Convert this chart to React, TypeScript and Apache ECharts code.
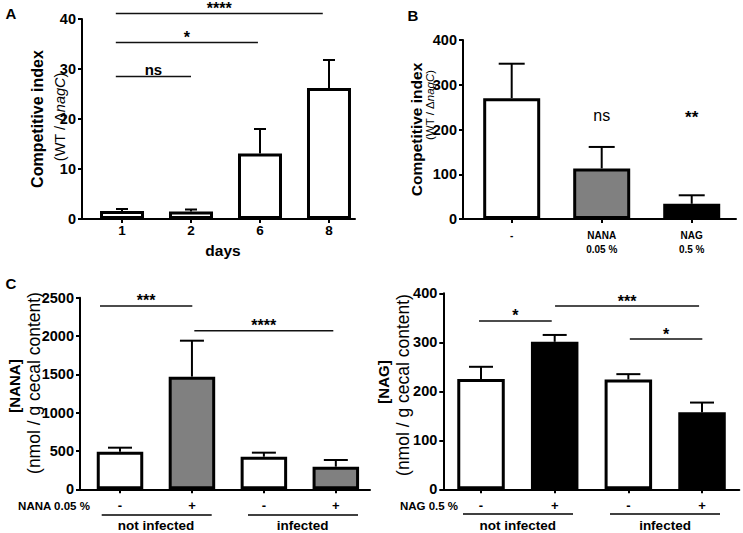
import React, { useEffect, useRef } from "react";
import * as echarts from "echarts";

const FONT = "'Liberation Sans', Arial, Helvetica, sans-serif";

// ---------- Panel A: competitive index over days ----------
const daysLabels = ["1", "2", "6", "8"];
const ciDaysMean = [1.6, 1.5, 13.1, 26.2];
const ciDaysTop = [2.0, 1.9, 18.0, 31.8]; // mean + error
const ciDaysFill = ["#ffffff", "#ffffff", "#ffffff", "#ffffff"];
const ciDaysSig: [number, number, number, string][] = [
  [0.91, 2.0, 28.5, "ns"],
  [0.91, 2.97, 35.3, "*"],
  [0.91, 3.91, 41.1, "****"],
];

// ---------- Panel B: competitive index with supplements ----------
const suppLabels = ["-", "NANA\n0.05 %", "NAG\n0.5 %"];
const ciSuppMean = [270, 113, 34];
const ciSuppTop = [347, 161, 53];
const ciSuppFill = ["#ffffff", "#808080", "#000000"];
const ciSuppSig: [number, number, number, string][] = [
  [2, 2, 214, "ns"],
  [3, 3, 214, "**"],
];

// ---------- Panel C left: [NANA] ----------
const nanaLabels = ["-", "+", "-", "+"];
const nanaMean = [490, 1470, 425, 295];
const nanaTop = [543, 1939, 478, 382];
const nanaFill = ["#ffffff", "#808080", "#ffffff", "#808080"];
const nanaSig: [number, number, number, string][] = [
  [0.722, 2.005, 2392, "***"],
  [2.033, 3.965, 2069, "****"],
];

// ---------- Panel C right: [NAG] ----------
const nagLabels = ["-", "+", "-", "+"];
const nagMean = [225, 301, 224, 157];
const nagTop = [250, 315, 235, 177];
const nagFill = ["#ffffff", "#000000", "#ffffff", "#000000"];
const nagSig: [number, number, number, string][] = [
  [0.973, 1.96, 343.5, "*"],
  [2.005, 3.96, 374, "***"],
  [3.02, 4.004, 306.7, "*"],
];

const groupLabels = ["not infected", "infected"];

type PanelCfg = {
  grid: { left: number; top: number; width: number; height: number };
  xMin: number;
  xMax: number;
  yMax: number;
  yInterval: number;
  labels: string[];
  labelFont: number;
  labelMargin: number;
  labelLineHeight?: number;
  means: number[];
  tops: number[];
  fills: string[];
  barWidth: number;
  capHalf: number;
  sig: [number, number, number, string][];
  sigFont: number;
  nsFont: number;
  nsWeight: string;
};

const panels: PanelCfg[] = [
  {
    grid: { left: 82, top: 19, width: 273, height: 200 },
    xMin: 0.42, xMax: 4.377, yMax: 40, yInterval: 10,
    labels: daysLabels, labelFont: 13.5, labelMargin: 4,
    means: ciDaysMean, tops: ciDaysTop, fills: ciDaysFill,
    barWidth: 44, capHalf: 6, sig: ciDaysSig, sigFont: 16, nsFont: 15, nsWeight: "bold",
  },
  {
    grid: { left: 463, top: 40, width: 273, height: 179 },
    xMin: 0.459, xMax: 3.492, yMax: 400, yInterval: 100,
    labels: suppLabels, labelFont: 10, labelMargin: 9, labelLineHeight: 14,
    means: ciSuppMean, tops: ciSuppTop, fills: ciSuppFill,
    barWidth: 57, capHalf: 13, sig: ciSuppSig, sigFont: 17, nsFont: 16, nsWeight: "normal",
  },
  {
    grid: { left: 80, top: 297.7, width: 290, height: 191.6 },
    xMin: 0.444, xMax: 4.475, yMax: 2500, yInterval: 500,
    labels: nanaLabels, labelFont: 13, labelMargin: 10,
    means: nanaMean, tops: nanaTop, fills: nanaFill,
    barWidth: 46.5, capHalf: 12, sig: nanaSig, sigFont: 16, nsFont: 15, nsWeight: "bold",
  },
  {
    grid: { left: 443.3, top: 293.3, width: 296, height: 196 },
    xMin: 0.488, xMax: 4.506, yMax: 400, yInterval: 100,
    labels: nagLabels, labelFont: 13, labelMargin: 10,
    means: nagMean, tops: nagTop, fills: nagFill,
    barWidth: 47.5, capHalf: 12, sig: nagSig, sigFont: 16, nsFont: 15, nsWeight: "bold",
  },
];

function vText(x: number, y: number, text: string, size: number, weight: string, rich?: any) {
  return {
    type: "text",
    x,
    y,
    rotation: Math.PI / 2,
    style: {
      text,
      fill: "#000",
      fontFamily: FONT,
      fontSize: size,
      fontWeight: weight,
      align: "center",
      verticalAlign: "middle",
      textAlign: "center",
      textVerticalAlign: "middle",
      rich,
    },
  };
}

function hText(x: number, y: number, text: string, size: number, weight: string) {
  return {
    type: "text",
    x,
    y,
    style: {
      text,
      fill: "#000",
      fontFamily: FONT,
      fontSize: size,
      fontWeight: weight,
      align: "center",
      verticalAlign: "middle",
      textAlign: "center",
      textVerticalAlign: "middle",
    },
  };
}

function hLine(x1: number, x2: number, y: number) {
  return {
    type: "line",
    shape: { x1, y1: y, x2, y2: y },
    style: { stroke: "#000", lineWidth: 1.6 },
  };
}

function subRich(size: number) {
  return {
    n: { fontFamily: FONT, fontSize: size, fill: "#000" },
    i: { fontFamily: FONT, fontSize: size, fontStyle: "italic", fill: "#000" },
  };
}

export default function App() {
  const ref = useRef<HTMLDivElement>(null);

  useEffect(() => {
    if (!ref.current) return;
    const chart = echarts.init(ref.current, undefined, { renderer: "svg" });

    const grid = panels.map((p) => ({ ...p.grid, containLabel: false }));

    const xAxis = panels.map((p, i) => {
      const vals = p.labels.map((_, k) => k + 1);
      return {
        type: "value",
        gridIndex: i,
        min: p.xMin,
        max: p.xMax,
        splitLine: { show: false },
        axisLine: { show: true, onZero: false, lineStyle: { color: "#000", width: 2 } },
        axisTick: { show: true, customValues: vals, length: 4, lineStyle: { color: "#000", width: 2 } },
        axisLabel: {
          show: true,
          customValues: vals,
          formatter: (v: number) => p.labels[Math.round(v) - 1] ?? "",
          color: "#000",
          fontFamily: FONT,
          fontWeight: "bold",
          fontSize: p.labelFont,
          lineHeight: p.labelLineHeight,
          margin: p.labelMargin,
        },
      };
    });

    const yAxis = panels.map((p, i) => ({
      type: "value",
      gridIndex: i,
      min: 0,
      max: p.yMax,
      interval: p.yInterval,
      splitLine: { show: false },
      axisLine: { show: true, lineStyle: { color: "#000", width: 2 } },
      axisTick: { show: true, length: 4, lineStyle: { color: "#000", width: 2 } },
      axisLabel: {
        color: "#000",
        fontFamily: FONT,
        fontWeight: "bold",
        fontSize: 14.5,
        margin: 6,
        formatter: (v: number) => String(v),
      },
    }));

    const series: any[] = [];
    panels.forEach((p, i) => {
      // error bars (drawn beneath the bars)
      series.push({
        type: "custom",
        xAxisIndex: i,
        yAxisIndex: i,
        z: 1,
        silent: true,
        encode: { x: 0, y: [1, 2] },
        data: p.means.map((m, k) => [k + 1, m, p.tops[k]]),
        renderItem: (params: any, api: any) => {
          const x = api.value(0);
          const a = api.coord([x, api.value(1)]);
          const b = api.coord([x, api.value(2)]);
          return {
            type: "group",
            children: [
              { type: "line", shape: { x1: a[0], y1: a[1], x2: b[0], y2: b[1] }, style: { stroke: "#000", lineWidth: 2 } },
              { type: "line", shape: { x1: b[0] - p.capHalf, y1: b[1], x2: b[0] + p.capHalf, y2: b[1] }, style: { stroke: "#000", lineWidth: 2 } },
            ],
          };
        },
      });
      // bars
      series.push({
        type: "bar",
        xAxisIndex: i,
        yAxisIndex: i,
        z: 2,
        barWidth: p.barWidth,
        silent: true,
        data: p.means.map((m, k) => ({
          value: [k + 1, m],
          itemStyle: { color: p.fills[k], borderColor: "#000", borderWidth: 3 },
        })),
      });
      // significance brackets
      series.push({
        type: "custom",
        xAxisIndex: i,
        yAxisIndex: i,
        z: 3,
        silent: true,
        clip: false,
        encode: { x: [0, 1], y: 2 },
        data: p.sig.map((s) => [s[0], s[1], s[2]]),
        renderItem: (params: any, api: any) => {
          const s = p.sig[params.dataIndex];
          const a = api.coord([api.value(0), api.value(2)]);
          const b = api.coord([api.value(1), api.value(2)]);
          const isNs = s[3] === "ns";
          const children: any[] = [];
          if (b[0] - a[0] > 1) {
            children.push({ type: "line", shape: { x1: a[0], y1: a[1], x2: b[0], y2: b[1] }, style: { stroke: "#111", lineWidth: 1.5 } });
          }
          children.push({
            type: "text",
            x: (a[0] + b[0]) / 2,
            y: a[1] + (isNs ? 0 : 3),
            style: {
              text: s[3],
              fill: "#000",
              fontFamily: FONT,
              fontSize: isNs ? p.nsFont : p.sigFont,
              fontWeight: isNs ? p.nsWeight : "bold",
              align: "center",
              verticalAlign: "bottom",
              textAlign: "center",
              textVerticalAlign: "bottom",
            },
          });
          return { type: "group", children };
        },
      });
    });

    const graphic: any[] = [
      // panel letters
      hText(11, 13, "A", 15, "bold"),
      hText(413, 15, "B", 15, "bold"),
      hText(11, 283, "C", 15, "bold"),
      // Panel A titles
      vText(37, 119, "Competitive index", 16, "bold"),
      vText(60, 117, "{n|(WT / Δ}{i|nagC}{n|)}", 14.5, "normal", subRich(14.5)),
      hText(223, 250, "days", 15.5, "bold"),
      // Panel B titles
      vText(416.7, 129.5, "Competitive index", 15.5, "bold"),
      vText(430, 105, "{n|(WT / Δ}{i|nagC}{n|)}", 11.5, "normal", subRich(11.5)),
      // Panel C left titles
      vText(14, 386, "[NANA]", 15, "bold"),
      vText(34, 383, "(nmol / g cecal content)", 17.5, "normal"),
      hText(54, 505.7, "NANA 0.05 %", 11.5, "bold"),
      hLine(101.7, 211.7, 515),
      hLine(248, 358, 515),
      hText(156, 525.5, groupLabels[0], 13.5, "bold"),
      hText(302.7, 525.5, groupLabels[1], 13.5, "bold"),
      // Panel C right titles
      vText(383, 382, "[NAG]", 15, "bold"),
      vText(403, 385, "(nmol / g cecal content)", 17.5, "normal"),
      hText(429, 505.7, "NAG 0.5 %", 11.5, "bold"),
      hLine(463, 573, 514),
      hLine(610, 720, 514),
      hText(517.7, 525.5, groupLabels[0], 13.5, "bold"),
      hText(665, 525.5, groupLabels[1], 13.5, "bold"),
    ];

    chart.setOption({
      animation: false,
      backgroundColor: "#ffffff",
      textStyle: { fontFamily: FONT },
      grid,
      xAxis,
      yAxis,
      series,
      graphic,
    });

    return () => chart.dispose();
  }, []);

  return (
    <div
      ref={ref}
      style={{ position: "fixed", left: 0, top: 0, width: 743, height: 533, background: "#fff" }}
    />
  );
}
